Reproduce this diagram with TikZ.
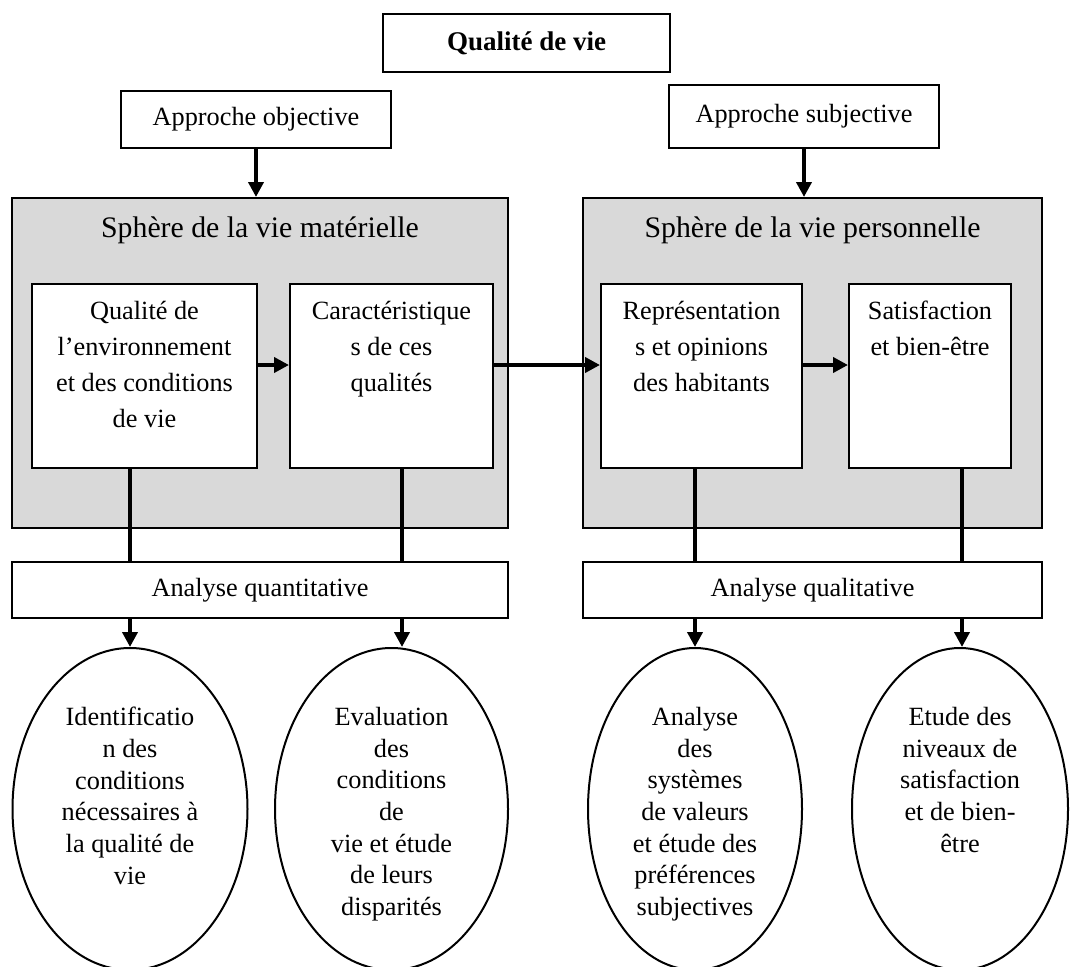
\documentclass[tikz,border=0pt]{standalone}
\usepackage{fontspec}
\setmainfont{Liberation Serif}
\usetikzlibrary{arrows.meta,positioning,shapes.geometric}
\definecolor{spheregray}{RGB}{217,217,217}
\tikzset{
    %Define standard arrow tip
    >={Triangle[width=15pt,length=15pt]},
    %Define style for boxes
    framebox/.style={
           rectangle, draw, line width=2pt, fill=white, inner sep=0pt,
           font=\fontsize{26.3}{36}\selectfont},
    spherebox/.style={
           rectangle, draw, line width=2pt, fill=spheregray, inner sep=0pt},
    oval/.style={
           ellipse, draw, line width=2pt, inner sep=0pt},
    % Define text styles
    spheretitle/.style={
           inner sep=0pt, font=\fontsize{29.8}{34}\selectfont},
    boxtext/.style={
           align=center, inner sep=0pt, font=\fontsize{26.3}{36}\selectfont},
    ovaltext/.style={
           align=center, inner sep=0pt, font=\fontsize{26.3}{31.7}\selectfont},
    % Define arrow style
    flow/.style={
           ->, line width=4pt},
    link/.style={
           line width=4pt}
}

\begin{document}
\begin{tikzpicture}[x=1pt, y=-1pt]
	\useasboundingbox (0,0) rectangle (1070,966);

	% columns of the vertical connectors
	\coordinate (col1) at (130,0);
	\coordinate (col2) at (402,0);
	\coordinate (col3) at (695,0);
	\coordinate (col4) at (962,0);

	% Title and approaches
	\node[framebox, minimum width=287pt, minimum height=58pt, font=\fontsize{27}{30}\selectfont\bfseries](title) at (526.5,43){Qualité de vie};
	\node[framebox, minimum width=270pt, minimum height=57pt](objective) at (256,119.5){Approche objective};
	\node[framebox, minimum width=270pt, minimum height=63pt](subjective) at (804,116.5){Approche subjective};

	% Material sphere
	\node[spherebox, minimum width=496pt, minimum height=330pt](material) at (260,363){};
	\node[spheretitle, below=20pt of material.north](materialtitle){Sphère de la vie matérielle};
	\node[framebox, minimum width=225pt, minimum height=184pt](qualenv) at (144.5,376){};
	\node[boxtext, below=18pt of qualenv.north, anchor=north](qualenvtext){Qualité de\\l’environnement\\et des conditions\\de vie};
	\node[framebox, minimum width=203pt, minimum height=184pt](caract) at (391.5,376){};
	\node[boxtext, below=18pt of caract.north, anchor=north](caracttext){Caractéristique\\s de ces\\qualités};

	% Personal sphere
	\node[spherebox, minimum width=459pt, minimum height=330pt](personal) at (812.5,363){};
	\node[spheretitle, below=20pt of personal.north](personaltitle){Sphère de la vie personnelle};
	\node[framebox, minimum width=201pt, minimum height=184pt](represent) at (701.5,376){};
	\node[boxtext, below=18pt of represent.north, anchor=north](representtext){Représentation\\s et opinions\\des habitants};
	\node[framebox, minimum width=162pt, minimum height=184pt](satisf) at (930,376){};
	\node[boxtext, below=18pt of satisf.north, anchor=north](satisftext){Satisfaction\\et bien-être};

	% Analyses
	\node[framebox, minimum width=496pt, minimum height=56pt](quantitative) at (260,590){Analyse quantitative};
	\node[framebox, minimum width=459pt, minimum height=56pt](qualitative) at (812.5,590){Analyse qualitative};

	% Outcomes
	\node[oval, minimum width=235pt, minimum height=322pt](identification) at (130,809){};
	\node[ovaltext, below=60pt of identification.north, anchor=north](identificationtext){Identificatio\\n des\\conditions\\nécessaires à\\la qualité de\\vie};
	\node[oval, minimum width=233pt, minimum height=322pt](evaluation) at (391.5,809){};
	\node[ovaltext, below=60pt of evaluation.north, anchor=north](evaluationtext){Evaluation\\des\\conditions\\de\\vie et étude\\de leurs\\disparités};
	\node[oval, minimum width=214pt, minimum height=322pt](values) at (695,809){};
	\node[ovaltext, below=60pt of values.north, anchor=north](valuestext){Analyse\\des\\systèmes\\de valeurs\\et étude des\\préférences\\subjectives};
	\node[oval, minimum width=216pt, minimum height=322pt](levels) at (960,809){};
	\node[ovaltext, below=60pt of levels.north, anchor=north](levelstext){Etude des\\niveaux de\\satisfaction\\et de bien-\\être};

	% Connectors
	\draw[flow] (objective.south) -- (objective.south |- material.north);
	\draw[flow] (subjective.south) -- (subjective.south |- personal.north);

	\draw[flow] ([yshift=11pt]qualenv.east) -- ([yshift=11pt]caract.west);
	\draw[flow] ([yshift=11pt]caract.east) -- ([yshift=11pt]represent.west);
	\draw[flow] ([yshift=11pt]represent.east) -- ([yshift=11pt]satisf.west);

	\draw[link] (qualenv.south -| col1) -- (quantitative.north -| col1);
	\draw[link] (caract.south -| col2) -- (quantitative.north -| col2);
	\draw[link] (represent.south -| col3) -- (qualitative.north -| col3);
	\draw[link] (satisf.south -| col4) -- (qualitative.north -| col4);

	\draw[flow] (quantitative.south -| col1) -- (identification.north -| col1);
	\draw[flow] (quantitative.south -| col2) -- (evaluation.north -| col2);
	\draw[flow] (qualitative.south -| col3) -- (values.north -| col3);
	\draw[flow] (qualitative.south -| col4) -- (levels.north -| col4);

\end{tikzpicture}
\end{document}
